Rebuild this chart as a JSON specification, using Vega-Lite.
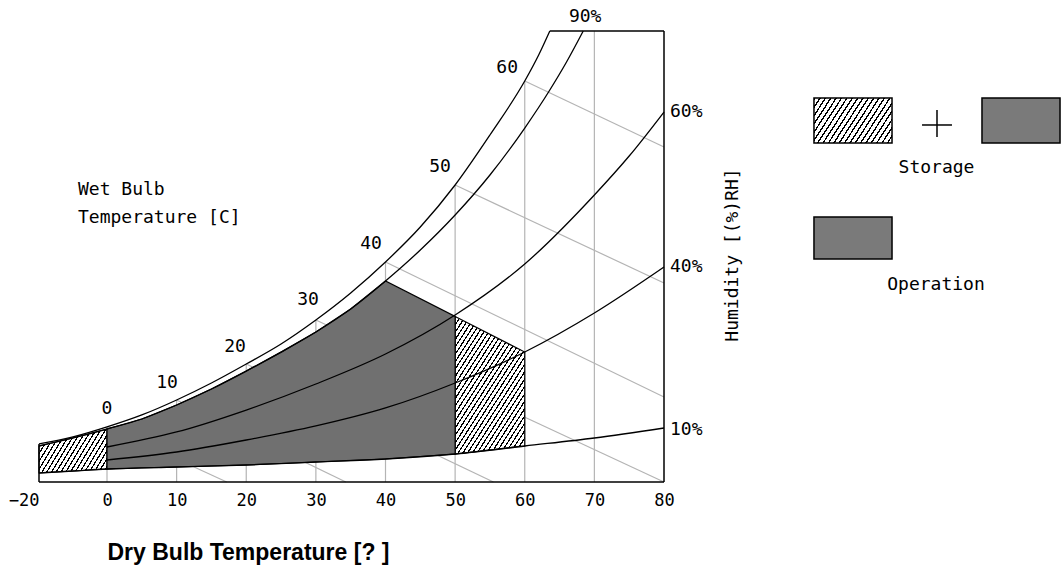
{
"$schema":"https://vega.github.io/schema/vega-lite/v6.json",
"autosize":{"type":"none"},
"padding":{"left":39,"top":31,"right":400,"bottom":85},
"background":"white",
"width":625,"height":451,
"config":{"view":{"stroke":null}},
"datasets":{
"curves":[
{"rh":"100%","T":-20,"h":8.43},{"rh":"100%","T":-10,"h":9.98},{"rh":"100%","T":0,"h":12.2},{"rh":"100%","T":5,"h":14.86},{"rh":"100%","T":10,"h":18.18},{"rh":"100%","T":15,"h":21.95},{"rh":"100%","T":20,"h":26.16},{"rh":"100%","T":25,"h":30.6},{"rh":"100%","T":30,"h":35.92},{"rh":"100%","T":35,"h":41.91},{"rh":"100%","T":40,"h":48.78},{"rh":"100%","T":45,"h":56.54},{"rh":"100%","T":50,"h":65.85},{"rh":"100%","T":55,"h":76.94},{"rh":"100%","T":60,"h":88.91},{"rh":"100%","T":62,"h":94.68},{"rh":"100%","T":63.6,"h":100},
{"rh":"90%","T":-20,"h":7.98},{"rh":"90%","T":-10,"h":9.76},{"rh":"90%","T":0,"h":11.75},{"rh":"90%","T":5,"h":13.97},{"rh":"90%","T":10,"h":17.07},{"rh":"90%","T":15,"h":20.62},{"rh":"90%","T":20,"h":24.6},{"rh":"90%","T":25,"h":28.8},{"rh":"90%","T":30,"h":33.26},{"rh":"90%","T":35,"h":38.36},{"rh":"90%","T":40,"h":44.57},{"rh":"90%","T":45,"h":51.44},{"rh":"90%","T":50,"h":59.2},{"rh":"90%","T":55,"h":68.07},{"rh":"90%","T":60,"h":78.49},{"rh":"90%","T":63.6,"h":86.92},{"rh":"90%","T":66,"h":93.13},{"rh":"90%","T":68.4,"h":100},
{"rh":"60%","T":0,"h":7.76},{"rh":"60%","T":10,"h":11.09},{"rh":"60%","T":20,"h":15.96},{"rh":"60%","T":30,"h":21.73},{"rh":"60%","T":40,"h":28.38},{"rh":"60%","T":50,"h":37.03},{"rh":"60%","T":60,"h":48.34},{"rh":"60%","T":70,"h":63.64},{"rh":"60%","T":75,"h":72.28},{"rh":"60%","T":80,"h":82.04},
{"rh":"40%","T":0,"h":4.88},{"rh":"40%","T":10,"h":6.65},{"rh":"40%","T":20,"h":9.31},{"rh":"40%","T":30,"h":12.42},{"rh":"40%","T":40,"h":16.41},{"rh":"40%","T":50,"h":21.95},{"rh":"40%","T":60,"h":28.82},{"rh":"40%","T":70,"h":37.47},{"rh":"40%","T":80,"h":47.67},
{"rh":"10%","T":-20,"h":2.0},{"rh":"10%","T":-10,"h":2.44},{"rh":"10%","T":0,"h":2.88},{"rh":"10%","T":10,"h":3.33},{"rh":"10%","T":20,"h":3.77},{"rh":"10%","T":30,"h":4.43},{"rh":"10%","T":40,"h":5.1},{"rh":"10%","T":50,"h":6.21},{"rh":"10%","T":60,"h":7.98},{"rh":"10%","T":70,"h":9.76},{"rh":"10%","T":80,"h":11.97}
],
"wetbulb":[
{"wb":0,"T":0,"h":12.2},{"wb":0,"T":17.2,"h":0},
{"wb":10,"T":10,"h":18.18},{"wb":10,"T":34.3,"h":0},
{"wb":20,"T":20,"h":26.16},{"wb":20,"T":55.5,"h":0},
{"wb":30,"T":30,"h":35.92},{"wb":30,"T":80,"h":0},
{"wb":40,"T":40,"h":48.78},{"wb":40,"T":80,"h":18.85},
{"wb":50,"T":50,"h":65.85},{"wb":50,"T":80,"h":44.12},
{"wb":60,"T":60,"h":88.91},{"wb":60,"T":80,"h":74.28}
],
"grid":[{"T":0,"h":12.2},{"T":10,"h":18.18},{"T":20,"h":26.16},{"T":30,"h":35.92},{"T":40,"h":48.78},{"T":50,"h":65.85},{"T":60,"h":88.91},{"T":70,"h":100}],
"storeL":[{"T":-20,"top":7.98,"bottom":2.0},{"T":-10,"top":9.76,"bottom":2.44},{"T":0,"top":11.75,"bottom":2.88}],
"storeR":[{"T":50,"top":36.7,"bottom":6.21},{"T":60,"top":28.82,"bottom":7.98}],
"operation":[{"T":0,"top":11.75,"bottom":2.88},{"T":5,"top":13.97,"bottom":3.1},{"T":10,"top":17.07,"bottom":3.33},{"T":15,"top":20.62,"bottom":3.55},{"T":20,"top":24.6,"bottom":3.77},{"T":25,"top":28.8,"bottom":4.1},{"T":30,"top":33.26,"bottom":4.43},{"T":35,"top":38.36,"bottom":4.77},{"T":40,"top":44.57,"bottom":5.1},{"T":50,"top":36.7,"bottom":6.21}],
"frame":[{"T":-20,"T2":-20,"h":0,"h2":8.43},{"T":80,"T2":80,"h":0,"h2":100},{"T":63.6,"T2":80,"h":100,"h2":100},{"T":-20,"T2":80,"h":0,"h2":0}],
"wblabels":[{"label":"0","T":0,"h":16.19},{"label":"10","T":8.62,"h":21.95},{"label":"20","T":18.39,"h":29.93},{"label":"30","T":28.88,"h":40.35},{"label":"40","T":37.93,"h":52.77},{"label":"50","T":47.84,"h":69.84},{"label":"60","T":57.47,"h":91.8}],
"notes":[{"label":"Wet Bulb","T":-8.53,"h":64.75},{"label":"Temperature [C]","T":-8.53,"h":58.54}],
"rhright":[{"label":"60%","T":80,"h":82.04},{"label":"40%","T":80,"h":47.67},{"label":"10%","T":80,"h":11.53}],
"rhtop":[{"label":"90%","T":68.68,"h":103.0}],
"ytitle":[{"label":"Humidity [(%)RH]","T":90.63,"h":50.33}],
"legHatch":[{"T":101.54,"T2":112.75,"h":85.14,"h2":75.17}],
"legCheck":[{"T":125.67,"T2":136.88,"h":85.14,"h2":75.17},{"T":101.54,"T2":112.75,"h":58.76,"h2":49.45}],
"legPlus":[{"T":117.06,"T2":121.36,"h":79.16,"h2":79.16},{"T":119.21,"T2":119.21,"h":82.48,"h2":76.5}],
"legText":[{"T":119.14,"h":68.51,"label":"Storage"},{"T":119.07,"h":42.57,"label":"Operation"}]
},
"encoding":{"x":{"field":"T","type":"quantitative","scale":{"domain":[-20,0,80],"range":[0,68,625],"nice":false,"zero":false},
"axis":{"values":[-20,0,10,20,30,40,50,60,70,80],"title":"Dry Bulb Temperature [? ]","titleFont":"Liberation Sans","titleFontSize":23,"titleFontWeight":"bold","titleColor":"black","titleX":68,"titleY":77,"titleAlign":"left","titleBaseline":"alphabetic","labelFont":"DejaVu Sans Mono","labelFontSize":17,"labelColor":"black","labelPadding":10,"labelAlign":{"condition":{"test":"datum.value === -20","value":"right"},"value":"center"},"labelFlush":false,"labelOverlap":false,"labelBound":false,"ticks":false,"tickSize":0,"domain":false,"grid":false}}},
"layer":[
{"data":{"name":"wetbulb"},"mark":{"type":"line","color":"#b4b4b4","strokeWidth":1.2},
"encoding":{"y":{"field":"h","type":"quantitative","scale":{"domain":[0,100],"nice":false,"zero":false},"axis":null},"detail":{"field":"wb"}}},
{"data":{"name":"grid"},"mark":{"type":"rule","color":"#b4b4b4","strokeWidth":1.2},
"encoding":{"y":{"field":"h","type":"quantitative","scale":{"domain":[0,100],"nice":false,"zero":false},"axis":null},"y2":{"datum":0}}},
{"data":{"name":"storeL"},"mark":{"type":"area","stroke":"black","strokeWidth":1.2,"fill":{"gradient":"linear","x1":0,"y1":0,"x2":1.207,"y2":0.473,"stops":[
{"offset":0,"color":"#000"},{"offset":0.015,"color":"#000"},{"offset":0.015,"color":"#fff"},{"offset":0.05,"color":"#fff"},
{"offset":0.05,"color":"#000"},{"offset":0.065,"color":"#000"},{"offset":0.065,"color":"#fff"},{"offset":0.1,"color":"#fff"},
{"offset":0.1,"color":"#000"},{"offset":0.115,"color":"#000"},{"offset":0.115,"color":"#fff"},{"offset":0.15,"color":"#fff"},
{"offset":0.15,"color":"#000"},{"offset":0.165,"color":"#000"},{"offset":0.165,"color":"#fff"},{"offset":0.2,"color":"#fff"},
{"offset":0.2,"color":"#000"},{"offset":0.215,"color":"#000"},{"offset":0.215,"color":"#fff"},{"offset":0.25,"color":"#fff"},
{"offset":0.25,"color":"#000"},{"offset":0.265,"color":"#000"},{"offset":0.265,"color":"#fff"},{"offset":0.3,"color":"#fff"},
{"offset":0.3,"color":"#000"},{"offset":0.315,"color":"#000"},{"offset":0.315,"color":"#fff"},{"offset":0.35,"color":"#fff"},
{"offset":0.35,"color":"#000"},{"offset":0.365,"color":"#000"},{"offset":0.365,"color":"#fff"},{"offset":0.4,"color":"#fff"},
{"offset":0.4,"color":"#000"},{"offset":0.415,"color":"#000"},{"offset":0.415,"color":"#fff"},{"offset":0.45,"color":"#fff"},
{"offset":0.45,"color":"#000"},{"offset":0.465,"color":"#000"},{"offset":0.465,"color":"#fff"},{"offset":0.5,"color":"#fff"},
{"offset":0.5,"color":"#000"},{"offset":0.515,"color":"#000"},{"offset":0.515,"color":"#fff"},{"offset":0.55,"color":"#fff"},
{"offset":0.55,"color":"#000"},{"offset":0.565,"color":"#000"},{"offset":0.565,"color":"#fff"},{"offset":0.6,"color":"#fff"},
{"offset":0.6,"color":"#000"},{"offset":0.615,"color":"#000"},{"offset":0.615,"color":"#fff"},{"offset":0.65,"color":"#fff"},
{"offset":0.65,"color":"#000"},{"offset":0.665,"color":"#000"},{"offset":0.665,"color":"#fff"},{"offset":0.7,"color":"#fff"},
{"offset":0.7,"color":"#000"},{"offset":0.715,"color":"#000"},{"offset":0.715,"color":"#fff"},{"offset":0.75,"color":"#fff"},
{"offset":0.75,"color":"#000"},{"offset":0.765,"color":"#000"},{"offset":0.765,"color":"#fff"},{"offset":0.8,"color":"#fff"},
{"offset":0.8,"color":"#000"},{"offset":0.815,"color":"#000"},{"offset":0.815,"color":"#fff"},{"offset":0.85,"color":"#fff"},
{"offset":0.85,"color":"#000"},{"offset":0.865,"color":"#000"},{"offset":0.865,"color":"#fff"},{"offset":0.9,"color":"#fff"},
{"offset":0.9,"color":"#000"},{"offset":0.915,"color":"#000"},{"offset":0.915,"color":"#fff"},{"offset":0.95,"color":"#fff"},
{"offset":0.95,"color":"#000"},{"offset":0.965,"color":"#000"},{"offset":0.965,"color":"#fff"},{"offset":1,"color":"#fff"}]}},
"encoding":{"y":{"field":"top","type":"quantitative","scale":{"domain":[0,100],"nice":false,"zero":false},"axis":null},"y2":{"field":"bottom"}}},
{"data":{"name":"storeR"},"mark":{"type":"area","stroke":"black","strokeWidth":1.2,"fill":{"gradient":"linear","x1":0,"y1":0,"x2":0.868,"y2":1.104,"stops":[
{"offset":0,"color":"#000"},{"offset":0.009,"color":"#000"},{"offset":0.009,"color":"#fff"},{"offset":0.03,"color":"#fff"},
{"offset":0.03,"color":"#000"},{"offset":0.039,"color":"#000"},{"offset":0.039,"color":"#fff"},{"offset":0.06,"color":"#fff"},
{"offset":0.06,"color":"#000"},{"offset":0.069,"color":"#000"},{"offset":0.069,"color":"#fff"},{"offset":0.09,"color":"#fff"},
{"offset":0.09,"color":"#000"},{"offset":0.099,"color":"#000"},{"offset":0.099,"color":"#fff"},{"offset":0.12,"color":"#fff"},
{"offset":0.12,"color":"#000"},{"offset":0.129,"color":"#000"},{"offset":0.129,"color":"#fff"},{"offset":0.15,"color":"#fff"},
{"offset":0.15,"color":"#000"},{"offset":0.159,"color":"#000"},{"offset":0.159,"color":"#fff"},{"offset":0.18,"color":"#fff"},
{"offset":0.18,"color":"#000"},{"offset":0.189,"color":"#000"},{"offset":0.189,"color":"#fff"},{"offset":0.21,"color":"#fff"},
{"offset":0.21,"color":"#000"},{"offset":0.219,"color":"#000"},{"offset":0.219,"color":"#fff"},{"offset":0.24,"color":"#fff"},
{"offset":0.24,"color":"#000"},{"offset":0.249,"color":"#000"},{"offset":0.249,"color":"#fff"},{"offset":0.27,"color":"#fff"},
{"offset":0.27,"color":"#000"},{"offset":0.279,"color":"#000"},{"offset":0.279,"color":"#fff"},{"offset":0.3,"color":"#fff"},
{"offset":0.3,"color":"#000"},{"offset":0.309,"color":"#000"},{"offset":0.309,"color":"#fff"},{"offset":0.33,"color":"#fff"},
{"offset":0.33,"color":"#000"},{"offset":0.339,"color":"#000"},{"offset":0.339,"color":"#fff"},{"offset":0.36,"color":"#fff"},
{"offset":0.36,"color":"#000"},{"offset":0.369,"color":"#000"},{"offset":0.369,"color":"#fff"},{"offset":0.39,"color":"#fff"},
{"offset":0.39,"color":"#000"},{"offset":0.399,"color":"#000"},{"offset":0.399,"color":"#fff"},{"offset":0.42,"color":"#fff"},
{"offset":0.42,"color":"#000"},{"offset":0.429,"color":"#000"},{"offset":0.429,"color":"#fff"},{"offset":0.45,"color":"#fff"},
{"offset":0.45,"color":"#000"},{"offset":0.459,"color":"#000"},{"offset":0.459,"color":"#fff"},{"offset":0.48,"color":"#fff"},
{"offset":0.48,"color":"#000"},{"offset":0.489,"color":"#000"},{"offset":0.489,"color":"#fff"},{"offset":0.51,"color":"#fff"},
{"offset":0.51,"color":"#000"},{"offset":0.519,"color":"#000"},{"offset":0.519,"color":"#fff"},{"offset":0.54,"color":"#fff"},
{"offset":0.54,"color":"#000"},{"offset":0.549,"color":"#000"},{"offset":0.549,"color":"#fff"},{"offset":0.57,"color":"#fff"},
{"offset":0.57,"color":"#000"},{"offset":0.579,"color":"#000"},{"offset":0.579,"color":"#fff"},{"offset":0.6,"color":"#fff"},
{"offset":0.6,"color":"#000"},{"offset":0.609,"color":"#000"},{"offset":0.609,"color":"#fff"},{"offset":0.63,"color":"#fff"},
{"offset":0.63,"color":"#000"},{"offset":0.639,"color":"#000"},{"offset":0.639,"color":"#fff"},{"offset":0.66,"color":"#fff"},
{"offset":0.66,"color":"#000"},{"offset":0.669,"color":"#000"},{"offset":0.669,"color":"#fff"},{"offset":0.69,"color":"#fff"},
{"offset":0.69,"color":"#000"},{"offset":0.699,"color":"#000"},{"offset":0.699,"color":"#fff"},{"offset":0.72,"color":"#fff"},
{"offset":0.72,"color":"#000"},{"offset":0.729,"color":"#000"},{"offset":0.729,"color":"#fff"},{"offset":0.75,"color":"#fff"},
{"offset":0.75,"color":"#000"},{"offset":0.759,"color":"#000"},{"offset":0.759,"color":"#fff"},{"offset":0.78,"color":"#fff"},
{"offset":0.78,"color":"#000"},{"offset":0.789,"color":"#000"},{"offset":0.789,"color":"#fff"},{"offset":0.81,"color":"#fff"},
{"offset":0.81,"color":"#000"},{"offset":0.819,"color":"#000"},{"offset":0.819,"color":"#fff"},{"offset":0.84,"color":"#fff"},
{"offset":0.84,"color":"#000"},{"offset":0.849,"color":"#000"},{"offset":0.849,"color":"#fff"},{"offset":0.87,"color":"#fff"},
{"offset":0.87,"color":"#000"},{"offset":0.879,"color":"#000"},{"offset":0.879,"color":"#fff"},{"offset":0.9,"color":"#fff"},
{"offset":0.9,"color":"#000"},{"offset":0.909,"color":"#000"},{"offset":0.909,"color":"#fff"},{"offset":0.93,"color":"#fff"},
{"offset":0.93,"color":"#000"},{"offset":0.939,"color":"#000"},{"offset":0.939,"color":"#fff"},{"offset":0.96,"color":"#fff"},
{"offset":0.96,"color":"#000"},{"offset":0.969,"color":"#000"},{"offset":0.969,"color":"#fff"},{"offset":0.99,"color":"#fff"},
{"offset":0.99,"color":"#000"},{"offset":0.999,"color":"#000"},{"offset":0.999,"color":"#fff"},{"offset":1,"color":"#fff"}]}},
"encoding":{"y":{"field":"top","type":"quantitative","scale":{"domain":[0,100],"nice":false,"zero":false},"axis":null},"y2":{"field":"bottom"}}},
{"data":{"name":"operation"},"mark":{"type":"area","stroke":"black","strokeWidth":1.2,"fill":"#707070"},
"encoding":{"y":{"field":"top","type":"quantitative","scale":{"domain":[0,100],"nice":false,"zero":false},"axis":null},"y2":{"field":"bottom"}}},
{"data":{"name":"curves"},"mark":{"type":"line","color":"black","strokeWidth":1.3,"interpolate":"monotone"},
"encoding":{"y":{"field":"h","type":"quantitative","scale":{"domain":[0,100],"nice":false,"zero":false},"axis":null},"detail":{"field":"rh"}}},
{"data":{"name":"frame"},"mark":{"type":"rule","color":"black","strokeWidth":1.5},
"encoding":{"x2":{"field":"T2"},"y":{"field":"h","type":"quantitative","scale":{"domain":[0,100],"nice":false,"zero":false},"axis":null},"y2":{"field":"h2"}}},
{"data":{"name":"wblabels"},"mark":{"type":"text","font":"DejaVu Sans Mono","fontSize":18,"align":"center","baseline":"middle","color":"black"},
"encoding":{"y":{"field":"h","type":"quantitative","scale":{"domain":[0,100],"nice":false,"zero":false},"axis":null},"text":{"field":"label"}}},
{"data":{"name":"notes"},"mark":{"type":"text","font":"DejaVu Sans Mono","fontSize":18,"align":"left","baseline":"middle","color":"black"},
"encoding":{"y":{"field":"h","type":"quantitative","scale":{"domain":[0,100],"nice":false,"zero":false},"axis":null},"text":{"field":"label"}}},
{"data":{"name":"rhright"},"mark":{"type":"text","font":"DejaVu Sans Mono","fontSize":18,"align":"left","baseline":"middle","dx":6,"color":"black"},
"encoding":{"y":{"field":"h","type":"quantitative","scale":{"domain":[0,100],"nice":false,"zero":false},"axis":null},"text":{"field":"label"}}},
{"data":{"name":"rhtop"},"mark":{"type":"text","font":"DejaVu Sans Mono","fontSize":18,"align":"center","baseline":"middle","color":"black"},
"encoding":{"y":{"field":"h","type":"quantitative","scale":{"domain":[0,100],"nice":false,"zero":false},"axis":null},"text":{"field":"label"}}},
{"data":{"name":"ytitle"},"mark":{"type":"text","font":"DejaVu Sans Mono","fontSize":18,"align":"center","baseline":"alphabetic","angle":270,"color":"black"},
"encoding":{"y":{"field":"h","type":"quantitative","scale":{"domain":[0,100],"nice":false,"zero":false},"axis":null},"text":{"field":"label"}}},
{"data":{"name":"legHatch"},"mark":{"type":"rect","stroke":"black","strokeWidth":1.5,"fill":{"gradient":"linear","x1":0,"y1":0,"x2":1.205,"y2":0.452,"stops":[
{"offset":0,"color":"#000"},{"offset":0.015,"color":"#000"},{"offset":0.015,"color":"#fff"},{"offset":0.05,"color":"#fff"},
{"offset":0.05,"color":"#000"},{"offset":0.065,"color":"#000"},{"offset":0.065,"color":"#fff"},{"offset":0.1,"color":"#fff"},
{"offset":0.1,"color":"#000"},{"offset":0.115,"color":"#000"},{"offset":0.115,"color":"#fff"},{"offset":0.15,"color":"#fff"},
{"offset":0.15,"color":"#000"},{"offset":0.165,"color":"#000"},{"offset":0.165,"color":"#fff"},{"offset":0.2,"color":"#fff"},
{"offset":0.2,"color":"#000"},{"offset":0.215,"color":"#000"},{"offset":0.215,"color":"#fff"},{"offset":0.25,"color":"#fff"},
{"offset":0.25,"color":"#000"},{"offset":0.265,"color":"#000"},{"offset":0.265,"color":"#fff"},{"offset":0.3,"color":"#fff"},
{"offset":0.3,"color":"#000"},{"offset":0.315,"color":"#000"},{"offset":0.315,"color":"#fff"},{"offset":0.35,"color":"#fff"},
{"offset":0.35,"color":"#000"},{"offset":0.365,"color":"#000"},{"offset":0.365,"color":"#fff"},{"offset":0.4,"color":"#fff"},
{"offset":0.4,"color":"#000"},{"offset":0.415,"color":"#000"},{"offset":0.415,"color":"#fff"},{"offset":0.45,"color":"#fff"},
{"offset":0.45,"color":"#000"},{"offset":0.465,"color":"#000"},{"offset":0.465,"color":"#fff"},{"offset":0.5,"color":"#fff"},
{"offset":0.5,"color":"#000"},{"offset":0.515,"color":"#000"},{"offset":0.515,"color":"#fff"},{"offset":0.55,"color":"#fff"},
{"offset":0.55,"color":"#000"},{"offset":0.565,"color":"#000"},{"offset":0.565,"color":"#fff"},{"offset":0.6,"color":"#fff"},
{"offset":0.6,"color":"#000"},{"offset":0.615,"color":"#000"},{"offset":0.615,"color":"#fff"},{"offset":0.65,"color":"#fff"},
{"offset":0.65,"color":"#000"},{"offset":0.665,"color":"#000"},{"offset":0.665,"color":"#fff"},{"offset":0.7,"color":"#fff"},
{"offset":0.7,"color":"#000"},{"offset":0.715,"color":"#000"},{"offset":0.715,"color":"#fff"},{"offset":0.75,"color":"#fff"},
{"offset":0.75,"color":"#000"},{"offset":0.765,"color":"#000"},{"offset":0.765,"color":"#fff"},{"offset":0.8,"color":"#fff"},
{"offset":0.8,"color":"#000"},{"offset":0.815,"color":"#000"},{"offset":0.815,"color":"#fff"},{"offset":0.85,"color":"#fff"},
{"offset":0.85,"color":"#000"},{"offset":0.865,"color":"#000"},{"offset":0.865,"color":"#fff"},{"offset":0.9,"color":"#fff"},
{"offset":0.9,"color":"#000"},{"offset":0.915,"color":"#000"},{"offset":0.915,"color":"#fff"},{"offset":0.95,"color":"#fff"},
{"offset":0.95,"color":"#000"},{"offset":0.965,"color":"#000"},{"offset":0.965,"color":"#fff"},{"offset":1,"color":"#fff"}]}},
"encoding":{"x2":{"field":"T2"},"y":{"field":"h","type":"quantitative","scale":{"domain":[0,100],"nice":false,"zero":false},"axis":null},"y2":{"field":"h2"}}},
{"data":{"name":"legCheck"},"mark":{"type":"rect","stroke":"black","strokeWidth":1.5,"fill":"#7a7a7a"},
"encoding":{"x2":{"field":"T2"},"y":{"field":"h","type":"quantitative","scale":{"domain":[0,100],"nice":false,"zero":false},"axis":null},"y2":{"field":"h2"}}},
{"data":{"name":"legPlus"},"mark":{"type":"rule","color":"black","strokeWidth":1.5},
"encoding":{"x2":{"field":"T2"},"y":{"field":"h","type":"quantitative","scale":{"domain":[0,100],"nice":false,"zero":false},"axis":null},"y2":{"field":"h2"}}},
{"data":{"name":"legText"},"mark":{"type":"text","font":"DejaVu Sans Mono","fontSize":18,"align":"center","baseline":"alphabetic","color":"black"},
"encoding":{"y":{"field":"h","type":"quantitative","scale":{"domain":[0,100],"nice":false,"zero":false},"axis":null},"text":{"field":"label"}}}
]
}
